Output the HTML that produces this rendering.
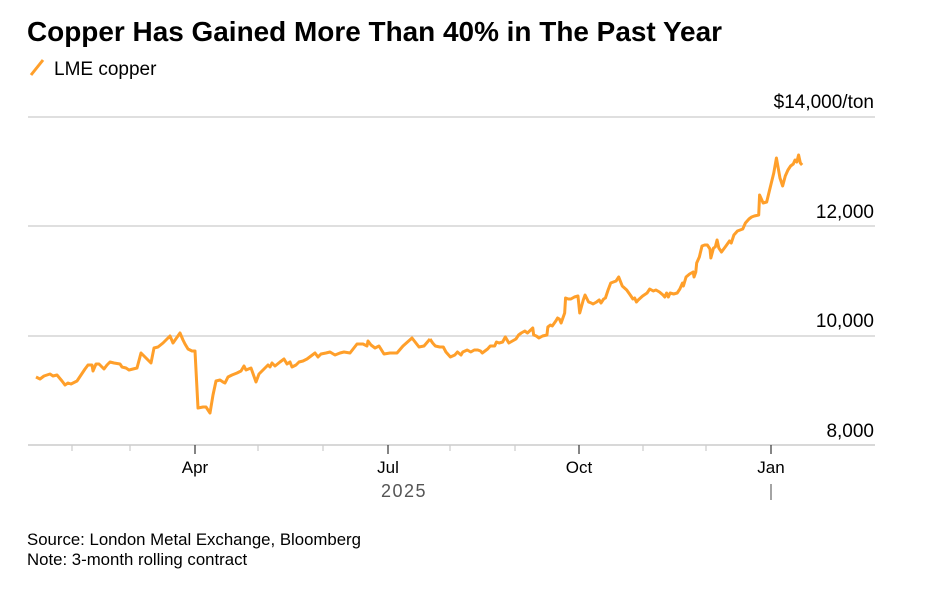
<!DOCTYPE html>
<html><head><meta charset="utf-8"><style>
body{margin:0;background:#fff;width:936px;height:594px;overflow:hidden;font-family:"Liberation Sans",Arial,sans-serif;}
</style></head><body>
<svg width="936" height="594" xmlns="http://www.w3.org/2000/svg" font-family="Liberation Sans, Arial, sans-serif">
<text x="27" y="41" font-size="27.5" font-weight="bold" fill="#000" textLength="695" lengthAdjust="spacingAndGlyphs">Copper Has Gained More Than 40% in The Past Year</text>
<line x1="31" y1="75" x2="43" y2="60" stroke="#ff9f2a" stroke-width="3"/>
<text x="54" y="75" font-size="19" fill="#000">LME copper</text>
<g stroke="#ccc" stroke-width="1.3">
<line x1="28" y1="117" x2="875" y2="117"/><line x1="28" y1="226" x2="875" y2="226"/><line x1="28" y1="336" x2="875" y2="336"/>
</g>
<line x1="28" y1="445" x2="875" y2="445" stroke="#ccc" stroke-width="1.5"/>
<g font-size="19" fill="#000" text-anchor="end">
<text x="874" y="108">$14,000/ton</text><text x="874" y="218">12,000</text><text x="874" y="327">10,000</text><text x="874" y="437">8,000</text>
</g>
<g stroke="#ccc" stroke-width="1.2">
<line x1="72" y1="445" x2="72" y2="451"/><line x1="130" y1="445" x2="130" y2="451"/><line x1="258" y1="445" x2="258" y2="451"/><line x1="323" y1="445" x2="323" y2="451"/><line x1="450" y1="445" x2="450" y2="451"/><line x1="515" y1="445" x2="515" y2="451"/><line x1="643" y1="445" x2="643" y2="451"/><line x1="706" y1="445" x2="706" y2="451"/>
</g>
<g stroke="#333" stroke-width="1.2">
<line x1="195" y1="445" x2="195" y2="454"/><line x1="388" y1="445" x2="388" y2="454"/><line x1="579" y1="445" x2="579" y2="454"/><line x1="771" y1="445" x2="771" y2="454"/>
<line x1="771" y1="484" x2="771" y2="500" stroke="#666"/>
</g>
<g font-size="17" fill="#000" text-anchor="middle">
<text x="195" y="473">Apr</text><text x="388" y="473">Jul</text><text x="579" y="473">Oct</text><text x="771" y="473">Jan</text>
</g>
<text x="404" y="497" font-size="18" fill="#555" text-anchor="middle" letter-spacing="1.5">2025</text>
<polyline fill="none" stroke="#ff9f2a" stroke-width="3" stroke-linejoin="round" points="36,377 40,379 44,376 50,374 53,376 57,375 62,381 65,385 68,383 71,384 77,381 81,375 85,369 88,365 92,365 93,371 96,364 99,364 104,369 107,365 110,362 114,363 120,364 122,367 126,368 129,370 133,369 137,368 141,353 146,358 151,363 154,348 158,347 163,343 167,339 170,336 173,343 180,333 183,340 185,344 188,349 192,351 195,351 198,408 203,407 206,407 210,413 213,395 216,381 220,380 223,382 225,383 228,377 232,375 237,373 241,371 244,366 246,370 251,368 256,382 259,374 264,369 268,365 270,367 272,363 275,366 280,362 284,359 287,364 290,362 292,367 296,365 299,362 303,361 307,359 311,356 315,353 318,357 321,354 326,353 330,352 335,355 340,353 344,352 350,353 357,344 363,344 367,346 368,341 371,345 375,348 379,346 384,354 390,353 397,353 403,346 412,338 419,347 424,346 430,339"/>
<g transform="translate(430,0) scale(0.886,1) translate(-430,0)">
<polyline fill="none" stroke="#ff9f2a" stroke-width="3" stroke-linejoin="round" vector-effect="non-scaling-stroke" points="430,339 433,343 436,346 441,347 445,347 448,352 453,357 458,355 461,352 465,355 467,352 472,350 476,352 480,350 484,350 487,351 489,353 495,349 498,346 503,346 505,342 508,343 512,342 515,337 519,343 523,341 527,339 530,335 533,333 537,331 540,333 546,328 547,335 550,336 553,338 557,336 562,335 563,327 566,325 568,326 572,321 574,318 576,319 578,323 582,313 583,298 586,299 589,299 593,297 597,296 599,313 603,300 605,295 609,302 612,303 614,304 618,302 621,300 623,303 626,299 628,298 631,290 634,283 637,282 640,281 643,277 647,286 652,290 656,295 659,299 661,298 663,302 665,300 670,296 675,293 678,289 682,291 685,290 689,292 693,295 695,297 697,293 699,297 701,293 705,294 709,293 712,289 715,283 716,286 719,277 723,274 725,273 727,272 728,277 730,272 731,263 734,257 737,246 740,245 743,245 746,249 747,258 750,248 752,247 754,240 756,248 759,252 764,246 768,241 770,243 773,235 777,231 780,230 783,229 786,223 790,219 793,217 796,216 801,215 802,195 806,203 810,202 813,191 818,173 821,158 825,178 828,186 831,176 834,170 837,166 840,164 842,160 844,162 846,155 848,163 850,165"/>
</g>
<text x="27" y="545" font-size="16.8" fill="#000">Source: London Metal Exchange, Bloomberg</text>
<text x="27" y="565" font-size="16.8" fill="#000">Note: 3-month rolling contract</text>
</svg>
</body></html>
